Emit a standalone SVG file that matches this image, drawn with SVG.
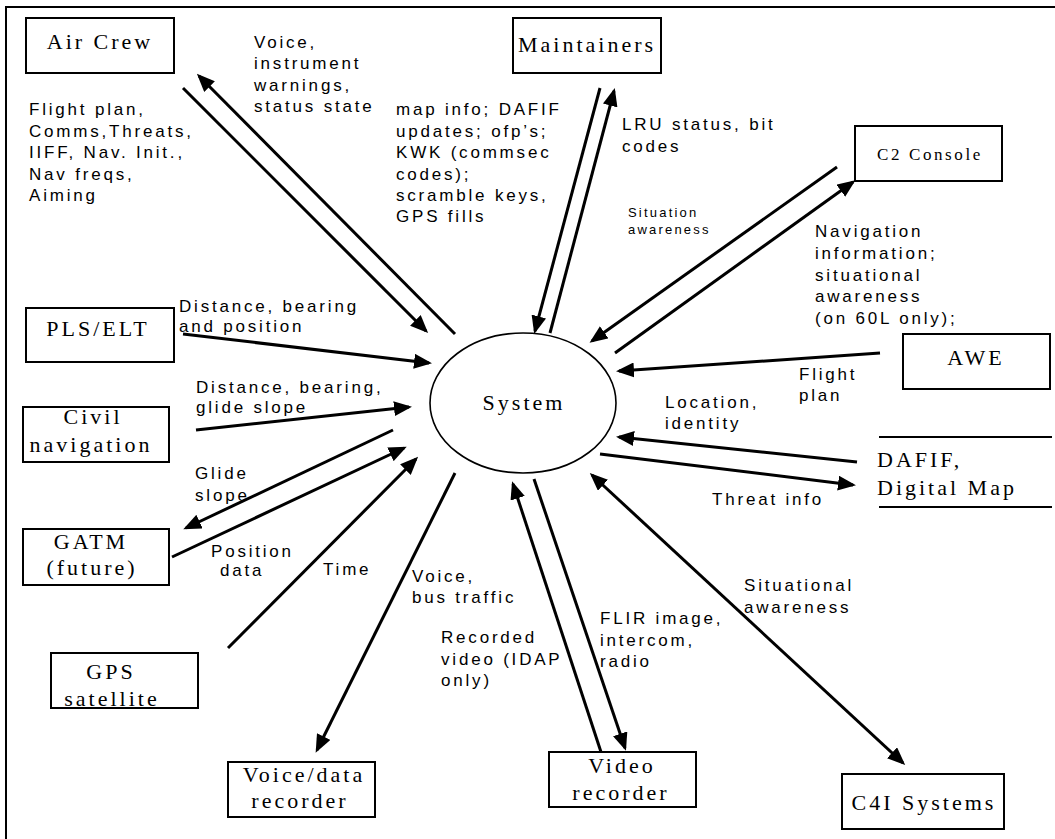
<svg xmlns="http://www.w3.org/2000/svg" width="1055" height="839" viewBox="0 0 1055 839">
<style>
.frame{fill:none;stroke:#000;stroke-width:2}
.box{fill:#fff;stroke:#000;stroke-width:2}
.nl{font-family:"Liberation Serif","Times New Roman",serif;font-size:22px;letter-spacing:3px;text-anchor:middle;fill:#000}
.c2{font-size:17px;letter-spacing:2.6px}
.lb{font-family:"Liberation Sans",Arial,sans-serif;font-size:17px;letter-spacing:2.8px;fill:#000}
.sm{font-size:13px;letter-spacing:2.2px}
.cn line{stroke:#000;stroke-width:3;marker-end:url(#ah)}
.cn line.both{marker-start:url(#ah)}
</style>
<defs>
<marker id="ah" viewBox="0 0 18 15" markerWidth="18" markerHeight="15" refX="15" refY="7.5" orient="auto-start-reverse" markerUnits="userSpaceOnUse">
<path d="M0,0 L18,7.5 L0,15 z" fill="#000"/>
</marker>
<clipPath id="clipNav"><rect x="800" y="220" width="250" height="107"/></clipPath>
</defs>
<rect width="1055" height="839" fill="#fff"/>
<rect class="frame" x="6" y="7" width="1100" height="900"/>

<g id="connectors" class="cn">
<line x1="183" y1="88" x2="426" y2="331"/>
<line x1="455" y1="334" x2="199" y2="76"/>
<line x1="600" y1="88" x2="535" y2="331"/>
<line x1="550" y1="333" x2="614" y2="91"/>
<line x1="837" y1="167" x2="592" y2="341"/>
<line x1="615" y1="353" x2="853" y2="182"/>
<line x1="880" y1="353" x2="619" y2="371"/>
<line x1="857" y1="462" x2="619" y2="437"/>
<line x1="600" y1="454" x2="853" y2="485"/>
<line x1="183" y1="334" x2="429" y2="363"/>
<line x1="196" y1="430" x2="409" y2="407"/>
<line x1="393" y1="430" x2="186" y2="528"/>
<line x1="172" y1="557" x2="404" y2="448"/>
<line x1="228" y1="648" x2="416" y2="459"/>
<line x1="455" y1="473" x2="317" y2="750"/>
<line x1="601" y1="752" x2="513" y2="484"/>
<line x1="534" y1="479" x2="625" y2="748"/>
<line class="both" x1="592" y1="475" x2="903" y2="763"/>
</g>

<g id="system">
<ellipse cx="523" cy="403" rx="93" ry="70" fill="none" stroke="#000" stroke-width="1.6"/>
<text class="nl" x="524" y="410">System</text>
</g>

<g id="air-crew">
<rect class="box" x="26" y="18" width="148" height="55"/>
<text class="nl" x="100" y="49">Air Crew</text>
</g>
<g id="maintainers">
<rect class="box" x="513" y="18" width="148" height="55"/>
<text class="nl" x="587" y="52">Maintainers</text>
</g>
<g id="c2-console">
<rect class="box" x="855" y="126" width="147" height="55"/>
<text class="nl c2" x="930" y="160">C2 Console</text>
</g>
<g id="awe">
<rect class="box" x="903" y="334" width="147" height="55"/>
<text class="nl" x="976" y="365">AWE</text>
</g>
<g id="dafif">
<line x1="879" y1="437" x2="1052" y2="437" stroke="#000" stroke-width="2"/>
<line x1="879" y1="507" x2="1052" y2="507" stroke="#000" stroke-width="2"/>
<text class="nl" x="877" y="467" style="text-anchor:start">DAFIF,</text>
<text class="nl" x="877" y="495" style="text-anchor:start">Digital Map</text>
</g>
<g id="pls-elt">
<rect class="box" x="26" y="308" width="148" height="54"/>
<text class="nl" x="98" y="336">PLS/ELT</text>
</g>
<g id="civil-navigation">
<rect class="box" x="23" y="407" width="146" height="55"/>
<text class="nl" x="93" y="424">Civil</text>
<text class="nl" x="91" y="452">navigation</text>
</g>
<g id="gatm">
<rect class="box" x="23" y="529" width="146" height="56"/>
<text class="nl" x="91" y="549">GATM</text>
<text class="nl" x="92" y="575">(future)</text>
</g>
<g id="gps-satellite">
<rect class="box" x="51" y="653" width="147" height="55"/>
<text class="nl" x="111" y="679">GPS</text>
<text class="nl" x="112" y="706">satellite</text>
</g>
<g id="voice-data-recorder">
<rect class="box" x="228" y="762" width="147" height="55"/>
<text class="nl" x="304" y="782">Voice/data</text>
<text class="nl" x="300" y="808">recorder</text>
</g>
<g id="video-recorder">
<rect class="box" x="549" y="752" width="147" height="55"/>
<text class="nl" x="622" y="773">Video</text>
<text class="nl" x="621" y="800">recorder</text>
</g>
<g id="c4i-systems">
<rect class="box" x="842" y="774" width="162" height="55"/>
<text class="nl" x="924" y="810">C4I Systems</text>
</g>

<g id="labels" class="lb">
<text x="254" y="48">Voice,</text>
<text x="254" y="69">instrument</text>
<text x="254" y="91">warnings,</text>
<text x="254" y="112">status state</text>
<text x="29" y="115">Flight plan,</text>
<text x="29" y="137">Comms,Threats,</text>
<text x="29" y="158">IIFF, Nav. Init.,</text>
<text x="29" y="180">Nav freqs,</text>
<text x="29" y="201">Aiming</text>
<text x="396" y="115">map info; DAFIF</text>
<text x="396" y="137">updates; ofp’s;</text>
<text x="396" y="158">KWK (commsec</text>
<text x="396" y="180">codes);</text>
<text x="396" y="201">scramble keys,</text>
<text x="396" y="222">GPS fills</text>
<text x="622" y="130">LRU status, bit</text>
<text x="622" y="152">codes</text>
<text class="sm" x="628" y="217">Situation</text>
<text class="sm" x="628" y="234">awareness</text>
<g clip-path="url(#clipNav)">
<text x="815" y="237">Navigation</text>
<text x="815" y="259">information;</text>
<text x="815" y="281">situational</text>
<text x="815" y="302">awareness</text>
<text x="815" y="324">(on 60L only);</text>
</g>
<text x="799" y="380">Flight</text>
<text x="799" y="401">plan</text>
<text x="665" y="408">Location,</text>
<text x="665" y="429">identity</text>
<text x="712" y="505">Threat info</text>
<text x="179" y="312">Distance, bearing</text>
<text x="179" y="332">and position</text>
<text x="196" y="393">Distance, bearing,</text>
<text x="196" y="413">glide slope</text>
<text x="195" y="479">Glide</text>
<text x="195" y="501">slope</text>
<text x="211" y="557">Position</text>
<text x="220" y="576">data</text>
<text x="323" y="575">Time</text>
<text x="412" y="582">Voice,</text>
<text x="412" y="603">bus traffic</text>
<text x="441" y="643">Recorded</text>
<text x="441" y="665">video (IDAP</text>
<text x="441" y="686">only)</text>
<text x="600" y="624">FLIR image,</text>
<text x="600" y="646">intercom,</text>
<text x="600" y="667">radio</text>
<text x="744" y="591">Situational</text>
<text x="744" y="613">awareness</text>
</g>
</svg>
